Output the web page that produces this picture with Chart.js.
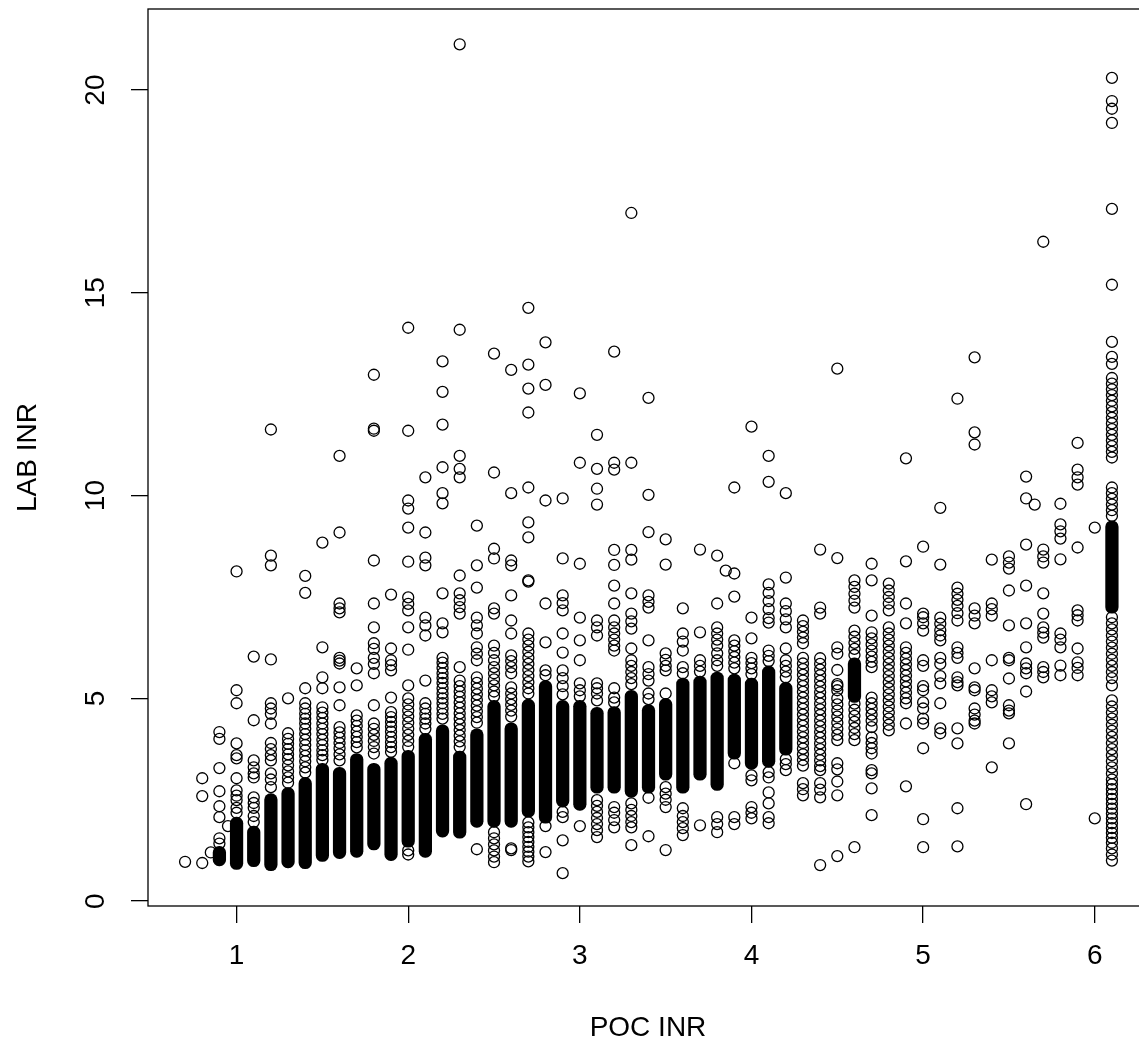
<!DOCTYPE html>
<html>
<head>
<meta charset="utf-8">
<script src="https://cdn.jsdelivr.net/npm/chart.js@4.4.1/dist/chart.umd.min.js"></script>
<style>
  html, body { margin: 0; padding: 0; background: #fff; overflow: hidden; }
</style>
</head>
<body>
<canvas id="plot" width="1160" height="1044"></canvas>
<script>
// POC INR readings come in 0.1 steps, so the points are kept per step
const pocLevels = [0.7, 0.8, 0.9, 1.0, 1.1, 1.2, 1.3, 1.4, 1.5, 1.6, 1.7, 1.8, 1.9, 2.0, 2.1, 2.2, 2.3, 2.4, 2.5, 2.6,
  2.7, 2.8, 2.9, 3.0, 3.1, 3.2, 3.3, 3.4, 3.5, 3.6, 3.7, 3.8, 3.9, 4.0, 4.1, 4.2, 4.3, 4.4, 4.5, 4.6,
  4.7, 4.8, 4.9, 5.0, 5.1, 5.2, 5.3, 5.4, 5.5, 5.6, 5.7, 5.8, 5.9, 6.0, 6.1];

// LAB INR values (separate circles)
const labByLevel = [
  [0.97],
  [3.03, 2.59, 0.94],
  [4.17, 4.0, 3.28, 2.71, 2.34, 2.07, 1.55, 1.42],
  [8.13, 5.2, 4.88, 3.89, 3.6, 3.52, 3.03, 2.73, 2.6, 2.49, 2.3, 2.18],
  [6.03, 4.46, 3.47, 3.3, 3.15, 3.05, 2.56, 2.42, 2.3, 2.1, 1.95],
  [11.63, 8.52, 8.28, 5.96, 4.88, 4.75, 4.62, 4.38, 3.9, 3.75, 3.6, 3.47, 3.15, 3.0, 2.81],
  [5.0, 4.14, 4.0, 3.88, 3.75, 3.62, 3.5, 3.35, 3.2, 3.05, 2.92],
  [8.02, 7.6, 5.25, 4.88, 4.75, 4.62, 4.5, 4.38, 4.25, 4.12, 3.98, 3.85, 3.72, 3.58, 3.45, 3.3, 3.17],
  [8.84, 6.26, 5.52, 5.25, 4.78, 4.65, 4.52, 4.38, 4.25, 4.12, 3.98, 3.85, 3.72, 3.6, 3.48],
  [10.98, 9.09, 7.34, 7.22, 7.12, 6.0, 5.93, 5.86, 5.27, 4.83, 4.29, 4.16, 4.03, 3.9, 3.77, 3.62, 3.47],
  [5.74, 5.32, 4.58, 4.45, 4.32, 4.18, 4.05, 3.92, 3.79],
  [12.98, 11.65, 11.6, 8.4, 7.34, 6.75, 6.36, 6.22, 6.0, 5.85, 5.62, 4.83, 4.38, 4.25, 4.1, 3.95, 3.8, 3.64],
  [7.56, 6.23, 5.94, 5.82, 5.69, 5.02, 4.66, 4.54, 4.42, 4.3, 4.18, 4.05, 3.92, 3.8, 3.68],
  [14.14, 11.6, 9.88, 9.68, 9.21, 8.37, 7.49, 7.33, 7.17, 6.75, 6.2, 5.32, 5.0, 4.85, 4.7, 4.55, 4.4, 4.25, 4.1, 3.95, 3.8, 1.25, 1.15],
  [10.45, 9.09, 8.47, 8.28, 6.99, 6.8, 6.55, 5.44, 4.88, 4.75, 4.62, 4.5, 4.38, 4.25],
  [13.31, 12.56, 11.75, 10.7, 10.06, 9.81, 7.59, 6.85, 6.63, 6.0, 5.88, 5.75, 5.62, 5.5, 5.38, 5.25, 5.12, 5.0, 4.88, 4.75, 4.62, 4.5],
  [21.13, 14.09, 10.98, 10.66, 10.45, 8.03, 7.59, 7.42, 7.25, 7.09, 5.77, 5.44, 5.3, 5.17, 5.04, 4.9, 4.77, 4.63, 4.5, 4.36, 4.22, 4.08, 3.94, 3.8],
  [9.26, 8.28, 7.73, 6.99, 6.8, 6.6, 6.26, 6.1, 5.94, 5.52, 5.38, 5.24, 5.1, 4.96, 4.82, 4.68, 4.54, 4.4, 1.28],
  [13.5, 10.57, 8.69, 8.45, 7.22, 7.09, 6.3, 6.12, 5.94, 5.77, 5.62, 5.47, 5.32, 5.17, 5.05, 1.7, 1.55, 1.4, 1.25, 1.1, 0.96],
  [13.1, 10.06, 8.4, 8.28, 7.54, 6.92, 6.6, 6.06, 5.92, 5.77, 5.62, 5.27, 5.12, 4.98, 4.84, 4.7, 4.55, 1.3, 1.26],
  [14.63, 13.23, 12.64, 12.05, 10.2, 9.34, 8.97, 7.91, 7.88, 6.6, 6.45, 6.3, 6.15, 6.0, 5.85, 5.7, 5.55, 5.4, 5.25, 5.12, 1.94, 1.82, 1.7, 1.58, 1.46, 1.34, 1.22, 1.1, 0.98],
  [13.78, 12.73, 9.88, 7.34, 6.38, 5.69, 5.57, 1.85, 1.21],
  [9.93, 8.45, 7.54, 7.35, 7.17, 6.6, 6.13, 5.69, 5.5, 5.3, 5.1, 2.2, 2.07, 1.5, 0.69],
  [12.52, 10.81, 8.32, 6.99, 6.43, 5.94, 5.37, 5.2, 5.05, 1.85],
  [11.5, 10.66, 10.17, 9.78, 6.92, 6.75, 6.55, 5.37, 5.25, 5.12, 4.95, 2.49, 2.35, 2.2, 2.05, 1.9, 1.75, 1.58],
  [13.55, 10.81, 10.64, 8.66, 8.29, 7.78, 7.34, 6.92, 6.75, 6.6, 6.45, 6.3, 6.18, 5.25, 5.02, 4.9, 2.32, 2.18, 2.0, 1.82],
  [16.97, 10.81, 8.66, 8.42, 7.59, 7.09, 6.9, 6.72, 6.23, 5.94, 5.8, 5.65, 5.5, 5.35, 2.41, 2.25, 2.1, 1.95, 1.82, 1.38],
  [12.41, 10.02, 9.1, 7.54, 7.38, 7.24, 6.43, 5.77, 5.6, 5.44, 5.12, 4.98, 2.55, 1.6],
  [8.92, 8.3, 6.11, 5.95, 5.8, 5.69, 5.12, 2.81, 2.65, 2.5, 2.32, 1.26],
  [7.22, 6.6, 6.4, 6.18, 5.77, 5.62, 2.29, 2.1, 1.95, 1.8, 1.63],
  [8.67, 6.63, 5.94, 5.8, 5.66, 1.87],
  [8.52, 7.34, 6.75, 6.6, 6.45, 6.3, 6.11, 5.94, 5.8, 2.07, 1.9, 1.7],
  [10.2, 8.08, 7.51, 6.43, 6.3, 6.16, 6.02, 5.88, 5.74, 3.4, 2.07, 1.9],
  [11.7, 6.99, 6.48, 6.0, 5.87, 5.74, 5.6, 3.1, 2.98, 2.32, 2.18, 2.04],
  [10.98, 10.34, 7.81, 7.6, 7.4, 7.2, 6.98, 6.87, 6.18, 6.05, 5.92, 3.18, 3.05, 2.68, 2.41, 2.07, 1.92],
  [10.06, 7.98, 7.34, 7.15, 6.95, 6.75, 6.23, 5.94, 5.8, 5.66, 5.52, 3.5, 3.38, 3.23],
  [6.92, 6.78, 6.64, 6.5, 6.36, 6.0, 5.86, 5.72, 5.58, 5.44, 5.3, 5.16, 5.02, 4.88, 4.74, 4.6, 4.46, 4.32, 4.18, 4.04, 3.9, 3.76, 3.62, 3.48, 3.34, 2.91, 2.76, 2.61],
  [8.67, 7.24, 7.09, 5.99, 5.85, 5.71, 5.57, 5.43, 5.29, 5.15, 5.01, 4.87, 4.73, 4.59, 4.45, 4.31, 4.17, 4.03, 3.89, 3.75, 3.61, 3.47, 3.33, 3.23, 2.91, 2.75, 2.56, 0.89],
  [13.13, 8.46, 6.26, 6.1, 5.7, 5.35, 5.3, 5.2, 5.0, 4.85, 4.7, 4.55, 4.4, 4.25, 4.1, 3.97, 3.4, 3.25, 2.95, 2.61, 1.11],
  [7.91, 7.75, 7.58, 7.41, 7.24, 6.67, 6.52, 6.37, 6.22, 6.07, 4.87, 4.72, 4.57, 4.42, 4.27, 4.12, 3.97, 1.33],
  [8.32, 7.91, 7.04, 6.63, 6.48, 6.33, 6.18, 6.03, 5.9, 5.77, 5.02, 4.88, 4.74, 4.6, 4.45, 4.29, 4.04, 3.9, 3.77, 3.64, 3.23, 3.15, 2.78, 2.12],
  [7.83, 7.66, 7.5, 7.34, 7.17, 6.75, 6.6, 6.45, 6.3, 6.15, 6.0, 5.85, 5.7, 5.55, 5.4, 5.25, 5.1, 4.95, 4.8, 4.65, 4.5, 4.35, 4.21],
  [10.92, 8.38, 7.34, 6.85, 6.26, 6.12, 5.98, 5.84, 5.7, 5.56, 5.42, 5.28, 5.14, 5.0, 4.88, 4.38, 2.83],
  [8.74, 7.09, 7.0, 6.85, 6.67, 5.94, 5.8, 5.3, 5.2, 4.9, 4.75, 4.5, 4.38, 3.77, 2.02, 1.33],
  [9.7, 8.3, 6.99, 6.84, 6.68, 6.55, 6.43, 6.0, 5.85, 5.55, 5.37, 4.88, 4.26, 4.14],
  [12.39, 7.73, 7.58, 7.43, 7.28, 7.1, 6.92, 6.26, 6.12, 6.0, 5.52, 5.4, 5.32, 4.26, 3.89, 2.29, 1.35],
  [13.41, 11.56, 11.26, 7.22, 7.04, 6.85, 5.74, 5.27, 5.2, 4.75, 4.6, 4.45, 4.38],
  [8.42, 7.34, 7.2, 7.04, 5.94, 5.2, 5.05, 4.9, 3.3],
  [8.5, 8.35, 8.2, 7.66, 6.8, 6.0, 5.94, 5.49, 4.83, 4.7, 4.63, 3.89],
  [10.47, 9.93, 8.79, 7.78, 6.85, 6.26, 5.86, 5.74, 5.62, 5.17, 2.39],
  [16.26, 8.67, 8.5, 8.35, 7.59, 7.09, 6.75, 6.62, 6.5, 5.77, 5.65, 5.52],
  [9.8, 9.29, 9.12, 8.94, 8.43, 6.6, 6.45, 6.26, 5.81, 5.57],
  [11.3, 10.64, 10.45, 10.27, 8.72, 7.17, 7.05, 6.92, 6.23, 5.89, 5.75, 5.57],
  [9.21, 2.04],
  [20.3, 19.73, 19.54, 19.19, 17.07, 15.2, 13.79, 13.42, 13.25, 12.9, 12.76, 12.62, 12.48, 12.34, 12.2, 12.06, 11.92,
   11.78, 11.64, 11.5, 11.36, 11.22, 11.08, 10.94, 10.2, 10.06, 9.92, 9.78, 9.64, 9.5, 7.0, 6.85, 6.7, 6.55, 6.4, 6.25,
   6.1, 5.95, 5.8, 5.65, 5.5, 5.32, 4.95, 4.8, 4.65, 4.5, 4.35, 4.2, 4.05, 3.9, 3.75, 3.6, 3.45, 3.3, 3.15, 3.0, 2.88,
   2.76, 2.64, 2.52, 2.4, 2.28, 2.16, 2.04, 1.92, 1.8, 1.68, 1.56, 1.44, 1.3, 1.15, 1.0]
];

// the few readings that fall between the 0.1 steps
const offStepPoc = [0.85, 0.95, 3.85, 5.65];
const offStepLab = [1.2, 1.85, 8.15, 9.78];

// where a column is so overplotted that it prints as solid black: low and high LAB INR of that run
const coreLow = [null, null, 0.87, 0.78, 0.85, 0.75, 0.82, 0.8, 0.98, 1.05, 1.08, 1.26, 1.0, 1.33, 1.08, 1.58, 1.55, 1.82, 1.82, 1.82,
  2.07, 1.92, 2.32, 2.24, 2.66, 2.66, 2.56, 2.66, 2.98, 2.66, 2.98, 2.73, 3.5, 3.25, 3.3, 3.6, null, null, null, 4.9,
  null, null, null, null, null, null, null, null, null, null, null, null, null, null, 7.1];
const coreHigh = [null, null, 1.35, 2.07, 1.85, 2.65, 2.8, 3.05, 3.4, 3.3, 3.64, 3.4, 3.55, 3.72, 4.14, 4.35, 3.7, 4.25, 4.95, 4.4,
  4.98, 5.44, 4.95, 4.95, 4.78, 4.8, 5.2, 4.85, 5.0, 5.5, 5.55, 5.65, 5.6, 5.5, 5.8, 5.4, null, null, null, 6.0,
  null, null, null, null, null, null, null, null, null, null, null, null, null, null, 9.38];

const xTicks = [1, 2, 3, 4, 5, 6];
const yTicks = [0, 5, 10, 15, 20];

const FONT = '"Liberation Sans", Arial, sans-serif';

let points = [];
pocLevels.forEach((x, i) => labByLevel[i].forEach(y => points.push({x: x, y: y})));
offStepPoc.forEach((x, i) => points.push({x: x, y: offStepLab[i]}));

let cores = [];
pocLevels.forEach((x, i) => {
  if (coreLow[i] != null) cores.push({x: x, y: [coreLow[i], coreHigh[i]]});
});

// R style box, rotated y labels and axis titles
const frame = {
  id: 'frame',
  afterDraw(chart) {
    const {ctx, chartArea: a} = chart;
    const y = chart.scales.y;
    ctx.save();
    ctx.strokeStyle = '#000';
    ctx.lineWidth = 1.3;
    ctx.strokeRect(a.left, a.top, a.right - a.left, a.bottom - a.top);
    ctx.fillStyle = '#000';
    ctx.font = '28px ' + FONT;
    ctx.textAlign = 'center';
    ctx.textBaseline = 'middle';
    yTicks.forEach(v => {
      ctx.save();
      ctx.translate(96, y.getPixelForValue(v));
      ctx.rotate(-Math.PI / 2);
      ctx.fillText(String(v), 0, 0);
      ctx.restore();
    });
    ctx.fillText('POC INR', 648, 1028);
    ctx.translate(28, (a.top + a.bottom) / 2);
    ctx.rotate(-Math.PI / 2);
    ctx.fillText('LAB INR', 0, 0);
    ctx.restore();
  }
};

new Chart(document.getElementById('plot'), {
  type: 'scatter',
  data: {
    datasets: [{
      type: 'bar',
      label: 'overplotted',
      data: cores,
      backgroundColor: '#000',
      borderWidth: 0,
      borderSkipped: false,
      borderRadius: 6.3,
      barThickness: 12.6,
      grouped: false,
      order: 2
    }, {
      type: 'scatter',
      label: 'LAB vs POC INR',
      data: points,
      pointStyle: 'circle',
      pointRadius: 5.5,
      pointBorderWidth: 1.3,
      pointBackgroundColor: 'rgba(0,0,0,0)',
      pointBorderColor: '#000',
      order: 1
    }]
  },
  options: {
    responsive: false,
    devicePixelRatio: 1,
    animation: false,
    layout: { padding: { top: 9, right: 11, left: 0, bottom: 0 } },
    plugins: { legend: { display: false }, tooltip: { enabled: false } },
    scales: {
      x: {
        type: 'linear',
        min: 0.484,
        max: 6.316,
        offset: false,
        afterBuildTicks: s => { s.ticks = xTicks.map(v => ({value: v})); },
        afterFit: s => { s.height = 138; },
        ticks: { color: '#000', font: { family: FONT, size: 28 }, padding: 16, maxRotation: 0 },
        grid: { offset: false, drawOnChartArea: false, drawTicks: true, tickLength: 17, color: '#000', lineWidth: 1.3 },
        border: { display: false }
      },
      y: {
        type: 'linear',
        min: -0.12,
        max: 22.0,
        afterBuildTicks: s => { s.ticks = yTicks.map(v => ({value: v})); },
        afterFit: s => { s.width = 148; },
        ticks: { display: false },
        grid: { offset: false, drawOnChartArea: false, drawTicks: true, tickLength: 17, color: '#000', lineWidth: 1.3 },
        border: { display: false }
      }
    }
  },
  plugins: [frame]
});
</script>
</body>
</html>
